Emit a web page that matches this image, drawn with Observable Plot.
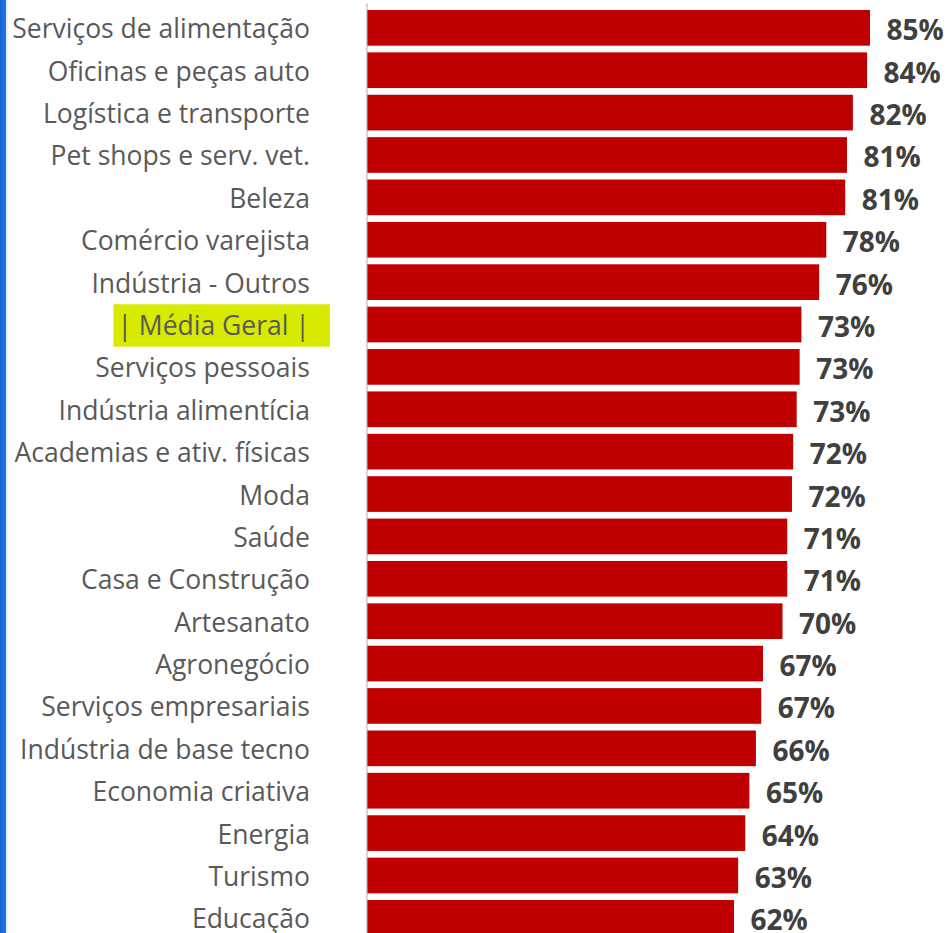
<!DOCTYPE html>
<html>
<head>
<meta charset="utf-8">
<script src="https://cdn.jsdelivr.net/npm/d3@7"></script>
<script src="https://cdn.jsdelivr.net/npm/@observablehq/plot@0.6"></script>
<style>
  html, body { margin: 0; padding: 0; background: #ffffff; overflow: hidden; }
  #wrap { position: relative; width: 948px; height: 933px; overflow: hidden; }
  #stripe { position: absolute; left: 0; top: 0; width: 6px; height: 933px;
            background: linear-gradient(to right, #1560d4, #2377e0); }
  #stripe2 { position: absolute; left: 6px; top: 0; width: 3px; height: 933px;
            background: linear-gradient(to right, #dbe8f7, #ffffff); }
  #chart { position: absolute; left: 0; top: 0; }
</style>
</head>
<body>
<div id="wrap">
  <div id="chart"></div>
  <div id="stripe"></div>
  <div id="stripe2"></div>
</div>
<script>
const categories = [
  "Serviços de alimentação",
  "Oficinas e peças auto",
  "Logística e transporte",
  "Pet shops e serv. vet.",
  "Beleza",
  "Comércio varejista",
  "Indústria - Outros",
  "| Média Geral |",
  "Serviços pessoais",
  "Indústria alimentícia",
  "Academias e ativ. físicas",
  "Moda",
  "Saúde",
  "Casa e Construção",
  "Artesanato",
  "Agronegócio",
  "Serviços empresariais",
  "Indústria de base tecno",
  "Economia criativa",
  "Energia",
  "Turismo",
  "Educação"
];
const values = [85.0, 84.5, 82.1, 81.1, 80.8, 77.6, 76.4, 73.4, 73.1, 72.6, 72.0, 71.8,
                71.0, 71.0, 70.2, 66.9, 66.6, 65.7, 64.6, 63.9, 62.7, 62.0];
const valueLabels = ["85%", "84%", "82%", "81%", "81%", "78%", "76%", "73%", "73%", "73%", "72%", "72%",
                     "71%", "71%", "70%", "67%", "67%", "66%", "65%", "64%", "63%", "62%"];
const highlighted = "| Média Geral |";

const data = categories.map((c, i) => ({category: c, value: values[i], label: valueLabels[i]}));

const chart = Plot.plot({
  width: 948,
  height: 943,
  marginLeft: 367.4,
  marginRight: 48.4,
  marginTop: 3.3,
  marginBottom: 0.6,
  style: {fontFamily: "'Open Sans', sans-serif", color: "#595959", background: "transparent"},
  x: {domain: [0, 90], axis: null},
  y: {domain: categories, padding: 0.158, round: false, label: null},
  marks: [
    Plot.ruleX([0], {dx: -1, stroke: "#d4d4d4", strokeWidth: 2}),
    Plot.barX(data, {x: "value", y: "category", fill: "#c00000"}),
    Plot.text(data, {x: "value", y: "category", text: "label", textAnchor: "start",
                     dx: 16, dy: 3, fontSize: 28, fontWeight: "bold", fill: "#404040"}),
    Plot.axisY({tickSize: 0, tickPadding: 58, dy: 1.5, fontSize: 26.5, label: null, fill: "#595959"})
  ]
});

document.getElementById("chart").appendChild(chart);

// highlight band behind the "Média Geral" tick label
const ys = chart.scale("y");
chart.querySelectorAll("text").forEach(t => {
  if (t.textContent === highlighted) {
    const b = t.getBBox();
    const pt = chart.createSVGPoint();
    const tm = t.getScreenCTM();
    const sm = chart.getScreenCTM().inverse();
    pt.x = b.x; pt.y = b.y;
    const p1 = pt.matrixTransform(tm).matrixTransform(sm);
    pt.x = b.x + b.width; pt.y = b.y + b.height;
    const p2 = pt.matrixTransform(tm).matrixTransform(sm);
    const cy = (p1.y + p2.y) / 2 + 0.5;
    const rect = document.createElementNS("http://www.w3.org/2000/svg", "rect");
    rect.setAttribute("x", p1.x - 4);
    rect.setAttribute("width", (p2.x - p1.x) + 24);
    rect.setAttribute("y", cy - ys.step / 2);
    rect.setAttribute("height", ys.step);
    rect.setAttribute("fill", "#d8ea00");
    chart.insertBefore(rect, chart.firstChild.nextSibling);
  }
});
</script>
</body>
</html>
